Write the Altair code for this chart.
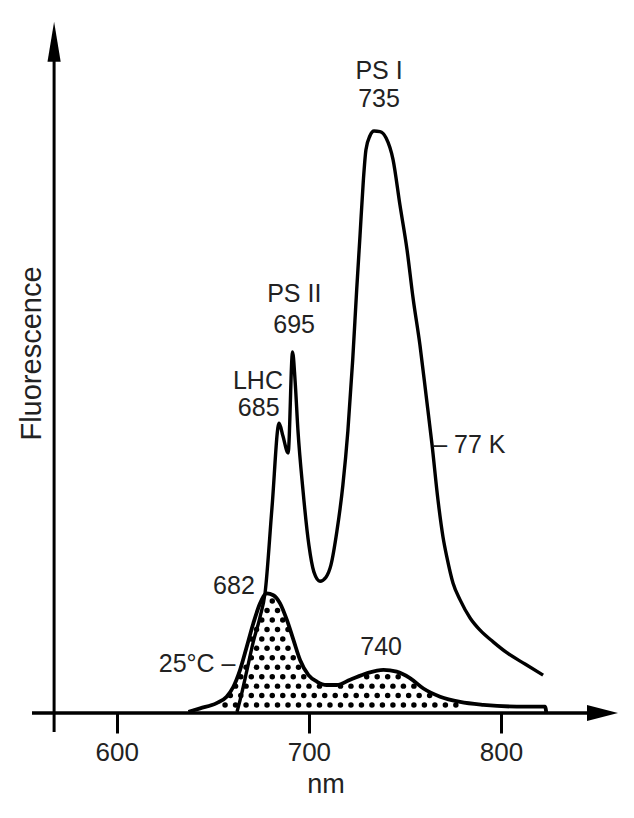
import altair as alt
import numpy as np
import pandas as pd

# ---- data (nm, fluorescence in arbitrary units) ----
NM_77K = [662.6, 664.2, 667.8, 670.9, 674.6, 677.2, 680.8, 684.5, 686.5, 689.2,
          691.5, 692.8, 694.3, 696.9, 700.0, 702.6, 705.8, 708.9, 711.5, 714.6,
          717.7, 720.3, 722.8, 724.9, 726.6, 728.3, 729.7, 731.8, 733.9, 737.0,
          740.2, 743.8, 747.4, 751.1, 754.2, 757.8, 761.0, 764.1, 767.2, 769.8,
          771.9, 775.0, 778.7, 783.9, 789.1, 795.9, 803.2, 812.5, 821.9]
F_77K = [0.2, 2.2, 7.4, 12.0, 16.5, 20.6, 35.2, 49.7, 47.5, 44.6,
         61.9, 57.1, 48.5, 38.3, 28.8, 24.2, 22.6, 23.3, 25.4, 31.2,
         39.1, 48.4, 60.5, 72.7, 81.8, 91.1, 96.6, 99.0, 99.8, 99.7,
         98.6, 94.9, 87.1, 79.4, 71.2, 63.1, 54.5, 46.0, 36.5, 30.2,
         26.6, 22.3, 19.4, 16.3, 14.2, 12.2, 10.3, 8.4, 6.5]

NM_25C = [637.3, 643.4, 652.0, 657.2, 660.7, 664.2, 667.7, 671.1, 674.6, 678.1,
          681.5, 685.0, 688.5, 692.0, 695.4, 699.8, 704.1, 709.3, 714.5, 721.5,
          730.1, 738.8, 745.7, 752.6, 759.6, 768.3, 778.7, 790.8, 808.2, 822.9, 823.6]
F_25C = [0.2, 0.8, 1.7, 2.8, 4.5, 7.4, 11.4, 15.4, 18.8, 20.5,
         20.2, 18.8, 16.0, 12.5, 9.1, 6.5, 5.4, 4.8, 4.8, 5.7,
         6.8, 7.4, 7.1, 6.0, 4.2, 2.8, 1.9, 1.4, 1.1, 1.1, 0.0]

TICKS = [600, 700, 800]

PEAK_LABELS = ["PS I", "735", "PS II", "695", "LHC", "685", "682", "740"]
PEAK_NM = [736.5, 736.5, 692.4, 692.3, 673.5, 673.9, 661.0, 737.6]
PEAK_F = [110.1, 105.3, 71.9, 66.6, 57.0, 52.3, 21.8, 11.3]

TAG_RIGHT = ["– 77 K"]
TAG_RIGHT_NM = [764.7]
TAG_RIGHT_F = [46.0]
TAG_LEFT = ["25°C –"]
TAG_LEFT_NM = [661.8]
TAG_LEFT_F = [8.4]

X_DOMAIN = [555.9, 861.4]
Y_DOMAIN = [-3.6, 118.5]

FONT = "Liberation Sans, Arial, sans-serif"
INK = "#222222"
FS = 25

df77 = pd.DataFrame({"nm": NM_77K, "f": F_77K})
df25 = pd.DataFrame({"nm": NM_25C, "f": F_25C})

# stipple texture inside the 25 degC band
pts = []
step_x, step_y = 5.46, 1.62
row = 0
yv = 1.37
while yv < 21:
    off = (step_x / 2) if row % 2 else 0.0
    xv = 640.0 + off
    while xv < 822:
        top = float(np.interp(xv, NM_25C, F_25C))
        if yv + 0.4 < top:
            pts.append({"nm": xv, "f": yv})
        xv += step_x
    yv += step_y
    row += 1
dots = pd.DataFrame(pts)

xs = alt.Scale(domain=X_DOMAIN, nice=False, zero=False)
ys = alt.Scale(domain=Y_DOMAIN, nice=False, zero=False)

xa = alt.Axis(values=TICKS, domain=False, grid=False, tickSize=20, tickWidth=3,
              tickColor="black", labelFont=FONT, labelFontSize=FS + 1,
              labelColor=INK, labelPadding=6, labelFlush=False, offset=-21,
              title="nm", titleFont=FONT, titleFontSize=FS + 2,
              titleFontWeight="normal", titleColor=INK, titlePadding=6)
ya = alt.Axis(domain=False, grid=False, ticks=False, labels=False, offset=-22,
              title="Fluorescence", titleFont=FONT, titleFontSize=29,
              titleFontWeight="normal", titleColor=INK, titlePadding=8, titleY=331)


def X(field):
    return alt.X(field, scale=xs, axis=xa)


def Y(field):
    return alt.Y(field, scale=ys, axis=ya)


dot_layer = alt.Chart(dots).mark_point(filled=True, size=30, color="black",
                                       opacity=1, shape="circle").encode(
    x=X("nm:Q"), y=Y("f:Q"))

line25 = alt.Chart(df25).mark_line(color="black", strokeWidth=3.8,
                                   interpolate="monotone").encode(
    x=X("nm:Q"), y=Y("f:Q"), order="nm:Q")

line77 = alt.Chart(df77).mark_line(color="black", strokeWidth=3.4,
                                   interpolate="monotone").encode(
    x=X("nm:Q"), y=Y("f:Q"), order="nm:Q")

xaxis_df = pd.DataFrame({"x1": [X_DOMAIN[0]], "x2": [847.0], "y": [0.0]})
xaxis_line = alt.Chart(xaxis_df).mark_rule(color="black", strokeWidth=3.4).encode(
    x=X("x1:Q"), x2="x2:Q", y=Y("y:Q"))

yaxis_df = pd.DataFrame({"x": [567.4], "y1": [-3.26], "y2": [112.0]})
yaxis_line = alt.Chart(yaxis_df).mark_rule(color="black", strokeWidth=3).encode(
    x=X("x:Q"), y=Y("y1:Q"), y2="y2:Q")

xarrow = alt.Chart(pd.DataFrame({"x": [852.8], "y": [0.0]})).mark_point(
    shape="M1,0L-1,-0.52L-1,0.52Z", size=961, filled=True, color="black",
    opacity=1).encode(x=X("x:Q"), y=Y("y:Q"))

yarrow = alt.Chart(pd.DataFrame({"x": [567.4], "y": [115.1]})).mark_point(
    shape="M0,-1L0.33,1L-0.33,1Z", size=1600, filled=True, color="black",
    opacity=1).encode(x=X("x:Q"), y=Y("y:Q"))

peak_df = pd.DataFrame({"t": PEAK_LABELS, "nm": PEAK_NM, "f": PEAK_F})
peak_text = alt.Chart(peak_df).mark_text(font=FONT, fontSize=FS, color=INK,
                                         align="center", baseline="middle").encode(
    x=X("nm:Q"), y=Y("f:Q"), text="t:N")

tag_r = alt.Chart(pd.DataFrame({"t": TAG_RIGHT, "nm": TAG_RIGHT_NM, "f": TAG_RIGHT_F})).mark_text(
    font=FONT, fontSize=FS, color=INK, align="left", baseline="middle").encode(
    x=X("nm:Q"), y=Y("f:Q"), text="t:N")

tag_l = alt.Chart(pd.DataFrame({"t": TAG_LEFT, "nm": TAG_LEFT_NM, "f": TAG_LEFT_F})).mark_text(
    font=FONT, fontSize=FS, color=INK, align="right", baseline="middle").encode(
    x=X("nm:Q"), y=Y("f:Q"), text="t:N")

chart = alt.layer(dot_layer, line25, line77, xaxis_line, yaxis_line, xarrow, yarrow,
                  peak_text, tag_r, tag_l).properties(
    width=587, height=712,
    autosize=alt.AutoSizeParams(type="none"),
    padding={"left": 24, "top": 14, "right": 5, "bottom": 70},
    background="white",
).configure_view(stroke=None)

chart.save("out.html", embed_options={"renderer": "svg", "actions": False})
